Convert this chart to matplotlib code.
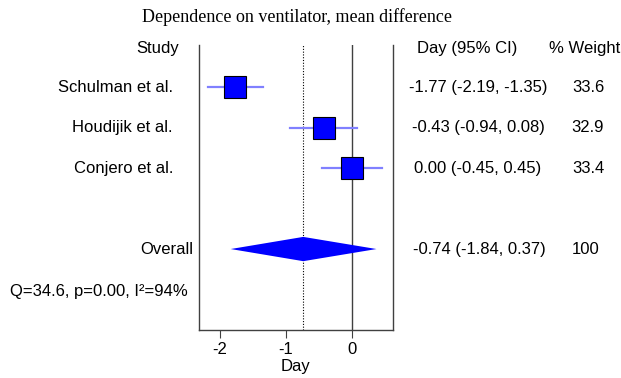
import matplotlib
matplotlib.use("Agg")
import matplotlib.pyplot as plt
import matplotlib.transforms as mtransforms

# study data
studies = ["Schulman et al.", "Houdijik et al.", "Conjero et al."]
means = [-1.77, -0.43, 0.00]
lower = [-2.19, -0.94, -0.45]
upper = [-1.35, 0.08, 0.45]
weights = [33.6, 32.9, 33.4]

overall_mean = -0.74
overall_lower = -1.84
overall_upper = 0.37
overall_weight = 100

het_text = "Q=34.6, p=0.00, I\u00b2=94%"
xticks = [-2, -1, 0]

plt.rcParams['font.family'] = ['Liberation Sans', 'DejaVu Sans']
FS = 12
W, H = 621, 378

fig = plt.figure(figsize=(W / 100, H / 100), dpi=100)
ax = fig.add_axes([199 / W, (H - 330) / H, (393 - 199) / W, (330 - 45) / H])

rows = [1, 2, 3]
overall_row = 5

# CI lines and boxes
for r, m, lo, hi, w in zip(rows, means, lower, upper, weights):
    ax.plot([lo, hi], [r, r], color='#8080ff', lw=1.6, zorder=2)
    ms = 16 * (w / max(weights)) ** 0.5
    ax.plot(m, r, marker='s', ms=ms, mfc='#0000ff', mec='#000000', mew=0.8, zorder=3)

# overall diamond
h = 0.3
ax.fill([overall_lower, overall_mean, overall_upper, overall_mean],
        [overall_row, overall_row - h, overall_row, overall_row + h],
        color='#0000ff', lw=0, zorder=3)

ax.axvline(0, color='#404040', lw=1.0, zorder=1)
ax.axvline(overall_mean, color='#000000', lw=0.8, ls=(0, (1, 1.5)), zorder=1)

ax.set_xlim(-2.32, 0.62)
ax.set_ylim(7.0, -0.04)
ax.set_yticks([])
ax.set_xticks(xticks)
ax.set_xticklabels([str(t) for t in xticks], fontsize=FS)
ax.tick_params(axis='x', length=6, color='#404040', pad=3)
ax.spines['top'].set_visible(False)
for s in ['left', 'right', 'bottom']:
    ax.spines[s].set_color('#404040')
    ax.spines[s].set_linewidth(1.0)
ax.set_xlabel("Day", fontsize=FS, labelpad=1)

trans = mtransforms.blended_transform_factory(fig.transFigure, ax.transData)

def fx(px):
    return px / W

# headers
hy = 0.05
ax.text(fx(158), hy, "Study", transform=trans, ha='center', va='center', fontsize=FS)
ax.text(fx(467), hy, "Day (95% CI)", transform=trans, ha='center', va='center', fontsize=FS)
ax.text(fx(585), hy, "% Weight", transform=trans, ha='center', va='center', fontsize=FS)

for r, name, m, lo, hi, w in zip(rows, studies, means, lower, upper, weights):
    ax.text(fx(173), r, name, transform=trans, ha='right', va='center', fontsize=FS)
    ax.text(fx(478), r, f"{m:.2f} ({lo:.2f}, {hi:.2f})", transform=trans,
            ha='center', va='center', fontsize=FS)
    ax.text(fx(588), r, f"{w:.1f}", transform=trans, ha='center', va='center', fontsize=FS)

ax.text(fx(193), overall_row, "Overall", transform=trans, ha='right', va='center', fontsize=FS)
ax.text(fx(479), overall_row,
        f"{overall_mean:.2f} ({overall_lower:.2f}, {overall_upper:.2f})",
        transform=trans, ha='center', va='center', fontsize=FS)
ax.text(fx(586), overall_row, f"{overall_weight}", transform=trans,
        ha='center', va='center', fontsize=FS)

ax.text(fx(10), 6.05, het_text, transform=trans, ha='left', va='center', fontsize=FS)

fig.text(fx(297), 1 - 17 / H, "Dependence on ventilator, mean difference",
         ha='center', va='center', fontsize=13, family='Liberation Serif')

fig.savefig("out.png", dpi=100)
